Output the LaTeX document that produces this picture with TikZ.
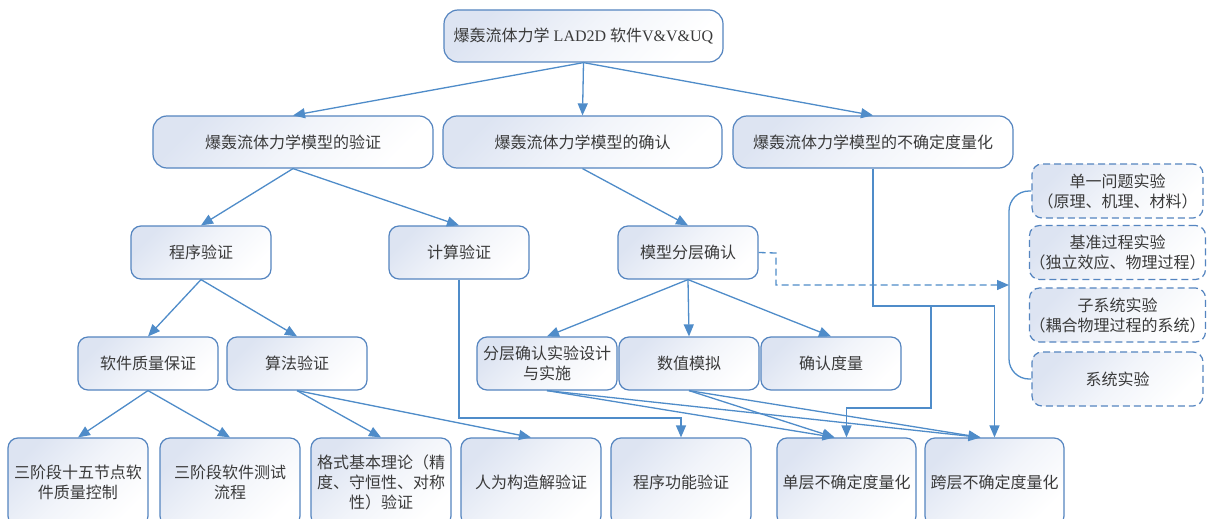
\documentclass[tikz,border=0pt]{standalone}
\usepackage{fontspec}
\setmainfont{Liberation Serif}
\newfontfamily\cjk{Noto Sans CJK SC}
\usetikzlibrary{arrows.meta,calc}
\definecolor{bordc}{HTML}{5585C0}
\definecolor{linec}{HTML}{4F8CC9}
\definecolor{fillc}{HTML}{DDE4F2}
\definecolor{txtc}{HTML}{3A3A3A}
\begin{document}
\begin{tikzpicture}[x=1pt,y=-1pt,
  box/.style={draw=bordc, line width=1.2pt, rounded corners=10pt,
    top color=fillc, bottom color=white, middle color=fillc!40!white, shading angle=45,
    inner sep=0pt, align=center, text=txtc,
    font=\cjk\fontsize{16}{20}\selectfont},
  bigbox/.style={box, rounded corners=14pt, minimum width=280pt, minimum height=52pt},
  midbox/.style={box, minimum width=140pt, minimum height=53pt},
  lowbox/.style={box, minimum width=140pt, minimum height=88pt},
  dbox/.style={box, dash pattern=on 7pt off 4pt, minimum width=171pt, minimum height=54pt},
  conn/.style={draw=linec, line width=1.3pt, -{Triangle[length=12pt,width=10pt]}},
  plain/.style={draw=linec, line width=1.3pt},
  dconn/.style={conn, dash pattern=on 7pt off 4pt}
]
\clip (0,0) rectangle (1213,519);
\fill[white] (0,0) rectangle (1213,519);

% level 1
\node[bigbox, minimum width=279pt, font=\rmfamily\fontsize{16}{20}\selectfont] (top) at (583.5,36)
  {{\cjk 爆轰流体力学} LAD2D {\cjk 软件}V\&V\&UQ};
% level 2
\node[bigbox] (ver) at (293,142) {爆轰流体力学模型的验证};
\node[bigbox, minimum width=279pt] (val) at (582.5,142) {爆轰流体力学模型的确认};
\node[bigbox] (uq) at (873,142) {爆轰流体力学模型的不确定度量化};
% level 3
\node[midbox] (pv) at (201,252.5) {程序验证};
\node[midbox] (cv) at (459,252.5) {计算验证};
\node[midbox] (mf) at (688,252.5) {模型分层确认};
% level 4
\node[midbox] (sq) at (148,363.5) {软件质量保证};
\node[midbox] (av) at (297,363.5) {算法验证};
\node[midbox] (fc) at (547,363.5) {分层确认实验设计\\与实施};
\node[midbox] (nm) at (689,363.5) {数值模拟};
\node[midbox] (cm) at (831,363.5) {确认度量};
% bottom row
\node[lowbox] (b1) at (78,482) {三阶段十五节点软\\件质量控制};
\node[lowbox] (b2) at (230,482) {三阶段软件测试\\流程};
\node[lowbox] (b3) at (381,482) {格式基本理论（精\\度、守恒性、对称\\性）验证};
\node[lowbox] (b4) at (531,482) {人为构造解验证};
\node[lowbox] (b5) at (681,482) {程序功能验证};
\node[lowbox, minimum width=139pt] (b6) at (846.5,482) {单层不确定度量化};
\node[lowbox, minimum width=139pt] (b7) at (994.5,482) {跨层不确定度量化};
% right dashed boxes
\node[dbox] (r1) at (1117.5,191) {单一问题实验\\（原理、机理、材料）};
\node[dbox] (r2) at (1117.5,252.5) {基准过程实验\\（独立效应、物理过程）};
\node[dbox] (r3) at (1117.5,315) {子系统实验\\（耦合物理过程的系统）};
\node[dbox] (r4) at (1117.5,379) {系统实验};

% connectors
\draw[conn] (top.south) -- (ver.north);
\draw[conn] (top.south) -- (val.north);
\draw[conn] (top.south) -- (uq.north);
\draw[conn] (ver.south) -- (pv.north);
\draw[conn] (ver.south) -- (cv.north);
\draw[conn] (val.south) -- (mf.north);
\draw[conn] (pv.south) -- (sq.north);
\draw[conn] (pv.south) -- (av.north);
\draw[conn] (sq.south) -- (b1.north);
\draw[conn] (sq.south) -- (b2.north);
\draw[conn] (av.south) -- (b3.north);
\draw[conn] (av.south) -- (b4.north);
\draw[conn] (mf.south) -- (fc.north);
\draw[conn] (mf.south) -- (nm.north);
\draw[conn] (mf.south) -- (cm.north);
\draw[conn] (fc.south) -- ([xshift=-12pt]b6.north);
\draw[conn] (fc.south) -- ([xshift=-14pt]b7.north);
\draw[conn] (nm.south) -- ([xshift=-12pt]b6.north);
\draw[conn] (nm.south) -- ([xshift=-14pt]b7.north);
% computing verification to program function verification
\coordinate (k1) at (459,418);
\draw[conn] (cv.south) -- (k1) -| (b5.north);
% uncertainty quantification branches
\coordinate (u1) at (873,306);
\coordinate (u2) at (931,306);
\coordinate (u3) at (931,408);
\draw[conn] (uq.south) -- (u1) -| (b7.north);
\draw[conn] (u2) -- (u3) -| (b6.north);
% dashed arrow to brace
\coordinate (d1) at (776,253);
\coordinate (d2) at (776,285);
\coordinate (bt) at (1009,285);
\draw[dconn] (mf.east) -- (d1) -- (d2) -- (bt);
% brace
\draw[plain, rounded corners=20pt] (r1.west) -| (bt) |- (r4.west);
\end{tikzpicture}
\end{document}
